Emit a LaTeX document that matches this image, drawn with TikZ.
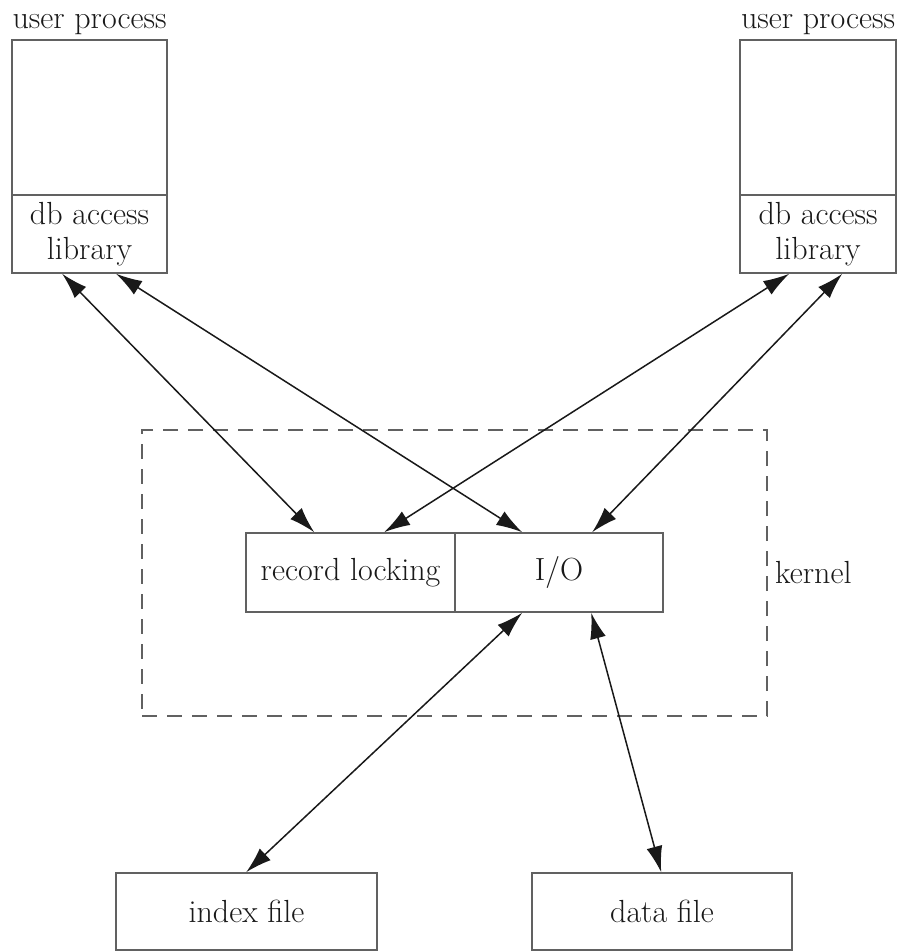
\documentclass[tikz,border=0pt]{standalone}
\usetikzlibrary{arrows.meta}
\begin{document}
\begin{tikzpicture}[x=1pt,y=-1pt,
  every node/.style={font=\fontsize{32}{35}\selectfont, text=black!90},
  box/.style={draw=black!62, line width=1.6pt, inner sep=0pt, align=center},
  conn/.style={line width=1.5pt, black!90, {Latex[length=26pt,width=16pt]}-{Latex[length=26pt,width=16pt]}}]
\useasboundingbox (0,0) rectangle (901,951);
% left user process
\node[box, minimum width=155pt, minimum height=155pt] (lpu) at (89.5,117.5) {};
\node[box, minimum width=155pt, minimum height=78pt] (llib) at (89.5,234) {db access\\library};
\node[anchor=base, inner sep=0pt] (ltitle) at (89.5,28) {user process};
% right user process
\node[box, minimum width=156pt, minimum height=155pt] (rpu) at (818,117.5) {};
\node[box, minimum width=156pt, minimum height=78pt] (rlib) at (818,234) {db access\\library};
\node[anchor=base, inner sep=0pt] (rtitle) at (818,28) {user process};
% kernel
\node[draw=black!62, line width=1.6pt, dash pattern=on 15pt off 10pt, minimum width=625pt, minimum height=286pt, inner sep=0pt] (kern) at (454.5,573) {};
\node[anchor=west, inner sep=0pt] (klabel) at (775,573) {kernel};
\node[box, minimum width=209pt, minimum height=79pt] (rl) at (350.5,572.5) {record locking};
\node[box, minimum width=208pt, minimum height=79pt] (io) at (559,572.5) {I/O};
% files
\node[box, minimum width=261pt, minimum height=77pt] (idx) at (246.5,911.5) {index file};
\node[box, minimum width=260pt, minimum height=77pt] (dat) at (662,911.5) {data file};
% connectors
\draw[conn] ([xshift=51pt]llib.south west) -- ([xshift=69pt]rl.north west);
\draw[conn] ([xshift=105pt]llib.south west) -- ([xshift=68pt]io.north west);
\draw[conn] ([xshift=50pt]rlib.south west) -- ([xshift=139pt]rl.north west);
\draw[conn] ([xshift=103pt]rlib.south west) -- ([xshift=138pt]io.north west);
\draw[conn] ([xshift=68pt]io.south west) -- ([xshift=131pt]idx.north west);
\draw[conn] ([xshift=137pt]io.south west) -- ([xshift=130pt]dat.north west);
\end{tikzpicture}
\end{document}
